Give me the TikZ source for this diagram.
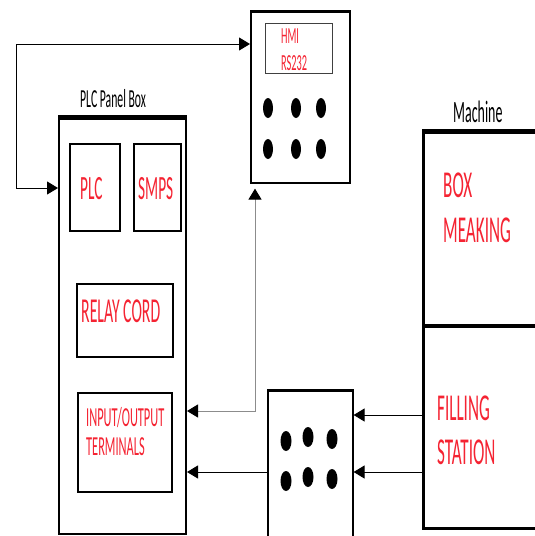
\documentclass[tikz,border=0pt]{standalone}
\usepackage{fontspec}
\usetikzlibrary{arrows.meta,shapes.geometric}
\newfontfamily\cf[FakeStretch=0.45]{Carlito}
\definecolor{txtred}{RGB}{245,35,50}
\begin{document}
\begin{tikzpicture}[x=1pt,y=-1pt,
  box/.style={draw=black,line width=2pt,anchor=north west,inner sep=0pt},
  thin box/.style={draw=black,line width=1.6pt,anchor=north west,inner sep=0pt},
  screen/.style={draw=black!75,line width=1pt,anchor=north west,inner sep=0pt},
  redtxt/.style={text=txtred,anchor=base west,inner sep=0pt},
  blktxt/.style={text=black,anchor=base west,inner sep=0pt},
  dot/.style={fill=black,draw=none,ellipse,minimum width=10pt,minimum height=20pt,inner sep=0pt},
  conn/.style={line width=1pt,{Triangle[length=11pt,width=13pt]}-{Triangle[length=11pt,width=13pt]}},
  conn1/.style={line width=1pt,-{Triangle[length=11pt,width=13pt]}}
]
\clip (0,0) rectangle (535,536);
\fill[white] (0,0) rectangle (535,536);

% PLC panel box
\node[box,minimum width=127pt,minimum height=416pt] (panel) at (58,117) {};
\draw[line width=5pt] (panel.north west) -- (panel.north east);
\node[blktxt,font=\cf\fontsize{26}{26}\selectfont] (panellbl) at (80,107) {PLC Panel Box};

\node[box,minimum width=50pt,minimum height=87pt] (plc) at (69,143) {};
\node[redtxt,font=\cf\fontsize{34}{34}\selectfont] (plct) at (80,199) {PLC};
\node[box,minimum width=47pt,minimum height=87pt] (smps) at (133,143) {};
\node[redtxt,font=\cf\fontsize{34}{34}\selectfont] (smpst) at (138,199) {SMPS};

\node[box,minimum width=96pt,minimum height=73pt] (relay) at (76,283) {};
\node[redtxt,font=\cf\fontsize{35}{35}\selectfont] (relayt) at (81,322) {RELAY CORD};

\node[box,minimum width=94pt,minimum height=99pt] (io) at (77,392) {};
\node[redtxt,font=\cf\fontsize{27.5}{27.5}\selectfont] (iot1) at (86,426) {INPUT/OUTPUT};
\node[redtxt,font=\cf\fontsize{27.5}{27.5}\selectfont] (iot2) at (86,455) {TERMINALS};

% HMI
\node[thin box,minimum width=99pt,minimum height=171pt] (hmi) at (250,11) {};
\draw[line width=3pt] (hmi.north west) -- (hmi.north east);
\node[screen,minimum width=67pt,minimum height=50pt] (scr) at (265,23) {};
\node[redtxt,font=\cf\fontsize{23}{23}\selectfont] (hmit) at (281,43) {HMI};
\node[redtxt,font=\cf\fontsize{23}{23}\selectfont] (rst) at (281,70) {RS232};
\foreach \x/\n in {268/a,296/b,321/c}{
  \node[dot] (h1\n) at (\x,108) {};
  \node[dot] (h2\n) at (\x,149) {};
}

% Machine
\node[box,line width=3pt,minimum width=140pt,minimum height=396pt] (mach) at (422,131) {};
\draw[line width=5pt] (mach.north west) -- (mach.north east);
\coordinate (div) at (422,326);
\draw[line width=4pt] (div) -- (div -| mach.east);
\node[blktxt,font=\cf\fontsize{31}{31}\selectfont] (macht) at (453,122) {Machine};
\node[redtxt,font=\cf\fontsize{38}{38}\selectfont] (boxt) at (443,197) {BOX};
\node[redtxt,font=\cf\fontsize{38}{38}\selectfont] (meak) at (443,242) {MEAKING};
\node[redtxt,font=\cf\fontsize{38}{38}\selectfont] (fill) at (437,420) {FILLING};
\node[redtxt,font=\cf\fontsize{38}{38}\selectfont] (stat) at (437,464) {STATION};

% Connector box
\node[thin box,minimum width=85pt,minimum height=150pt] (cb) at (267,390) {};
\draw[line width=3pt] (cb.north west) -- (cb.north east);
\node[dot,minimum width=11pt] (c1a) at (286,441) {};
\node[dot,minimum width=11pt] (c1b) at (308,437) {};
\node[dot,minimum width=11pt] (c1c) at (332,439) {};
\node[dot,minimum width=11pt] (c2a) at (286,481) {};
\node[dot,minimum width=11pt] (c2b) at (308,477) {};
\node[dot,minimum width=11pt] (c2c) at (332,479) {};

% connectors
\coordinate (k1) at (16,44);
\coordinate (k2) at (16,188);
\draw[conn] (k2 -| panel.west) -- (k2) -- (k1) -- (k1 -| hmi.west);

\coordinate (g) at (255,411);
\draw[line width=1pt,black!45,shorten >=5pt,{Triangle[length=11pt,width=13pt,black]}-{Triangle[length=11pt,width=13pt,black]}]
  (g -| panel.east) -- (g) -- (g |- hmi.south);

\coordinate (f1) at (422,415);
\coordinate (f2) at (422,472);
\draw[conn1] (f1 -| mach.west) -- (f1 -| cb.east);
\draw[conn1] (f2 -| mach.west) -- (f2 -| cb.east);
\draw[conn1] (f2 -| cb.west) -- (f2 -| panel.east);
\end{tikzpicture}
\end{document}
